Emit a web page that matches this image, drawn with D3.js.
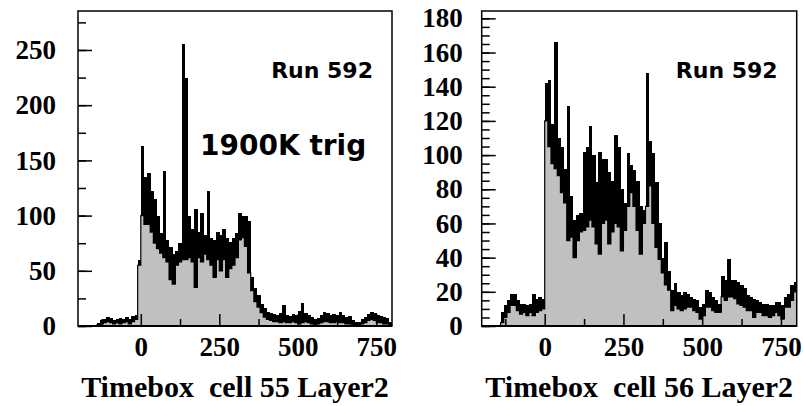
<!DOCTYPE html>
<html>
<head>
<meta charset="utf-8">
<script src="https://cdn.jsdelivr.net/npm/d3@7"></script>
<style>
  body { margin: 0; background: #fff; }
  svg { display: block; }
</style>
</head>
<body>
<div id="chart"></div>
<script>
// Timebox histograms, run 592: cell 55 and cell 56 of Layer2
// Each bin is 10 timebox units wide, from -200 to 800.
// "low" = level of the grey fill, "high" = top of the black fluctuation band.
const binWidth = 10;
const binStarts = d3.range(-200, 800, binWidth);

const cell55Low = [
  0, 0, 0, 0, 0, 0, 1, 2, 3, 4,
  3, 2, 3, 2, 3, 4, 2, 4, 6, 55,
  100, 92, 92, 85, 75, 70, 66, 62, 58, 42,
  38, 55, 58, 60, 60, 62, 58, 35, 62, 58,
  65, 60, 55, 44, 60, 50, 60, 44, 52, 55,
  62, 78, 80, 72, 48, 32, 22, 17, 12, 8,
  6, 5, 4, 4, 3, 4, 3, 3, 4, 3,
  2, 3, 4, 3, 2, 1, 2, 3, 4, 4,
  3, 3, 4, 3, 3, 2, 2, 1, 1, 1,
  2, 3, 5, 6, 5, 3, 3, 2, 2, 1
];
const cell55High = [
  0, 0, 0, 0, 0, 0, 3, 5, 6, 8,
  7, 5, 6, 7, 6, 8, 6, 9, 10, 60,
  163, 135, 139, 122, 115, 100, 84, 140, 78, 72,
  65, 68, 75, 255, 225, 100, 88, 106, 85, 102,
  82, 122, 80, 78, 85, 82, 88, 80, 76, 80,
  84, 102, 100, 100, 95, 44, 34, 28, 20, 16,
  13, 12, 11, 10, 12, 19, 10, 9, 11, 10,
  14, 21, 12, 10, 8, 6, 7, 10, 13, 12,
  10, 11, 10, 13, 10, 8, 9, 5, 4, 4,
  6, 8, 11, 13, 12, 10, 9, 8, 7, 4
];

const cell56Low = [
  0, 0, 0, 0, 0, 0, 2, 5, 8, 12,
  12, 9, 7, 8, 6, 8, 6, 8, 9, 10,
  120, 105, 95, 92, 88, 78, 72, 50, 52, 40,
  50, 55, 56, 58, 62, 58, 48, 42, 60, 62,
  48, 55, 60, 58, 44, 56, 70, 78, 70, 56,
  42, 60, 70, 82, 60, 46, 39, 31, 24, 21,
  9, 12, 10, 9, 10, 11, 11, 9, 8, 4,
  6, 11, 11, 9, 8, 8, 17, 15, 17, 17,
  16, 13, 12, 11, 9, 9, 5, 8, 8, 6,
  6, 5, 6, 8, 6, 4, 11, 11, 15, 20
];
const cell56High = [
  0, 0, 0, 0, 0, 0, 8, 12, 15, 19,
  19, 15, 13, 13, 12, 13, 19, 16, 17, 16,
  142, 144, 118, 166, 110, 105, 92, 129, 76, 62,
  65, 66, 102, 105, 117, 100, 84, 102, 98, 98,
  90, 85, 112, 105, 80, 72, 101, 94, 91, 85,
  70, 68, 148, 108, 101, 84, 60, 40, 49, 32,
  21, 25, 20, 18, 20, 19, 17, 16, 15, 11,
  13, 21, 20, 17, 15, 13, 29, 27, 39, 27,
  27, 26, 24, 22, 18, 17, 16, 15, 14, 13,
  13, 12, 12, 14, 14, 12, 17, 19, 24, 26
];

const xTickLabels = [0, 250, 500, 750];
const xMinorTicks = [-125, 125, 375, 625];
const cell55YTicks = [0, 50, 100, 150, 200, 250];
const cell56YTicks = [0, 20, 40, 60, 80, 100, 120, 140, 160, 180];

const W = 803, H = 406;
const svg = d3.select('#chart').append('svg')
  .attr('width', W)
  .attr('height', H);

const axisFont = "'Liberation Serif', 'Times New Roman', serif";

function drawPanel(p) {
  const x = d3.scaleLinear().domain([-200, 800]).range([p.left, p.right]);
  const y = d3.scaleLinear().domain([0, p.yMax]).range([p.bottom, p.top]);
  const g = svg.append('g');

  const bins = binStarts.map((b, i) => ({ b, lo: p.low[i], hi: p.high[i] }));

  // grey fill
  g.selectAll('.fill').data(bins).enter().append('rect')
    .attr('x', d => x(d.b))
    .attr('width', d => x(d.b + binWidth) - x(d.b) + 0.4)
    .attr('y', d => y(d.lo))
    .attr('height', d => y(0) - y(d.lo))
    .attr('fill', '#c0c0c0')
    .attr('shape-rendering', 'crispEdges');

  // black fluctuation band
  g.selectAll('.band').data(bins.filter(d => d.hi > 0)).enter().append('rect')
    .attr('x', d => x(d.b))
    .attr('width', d => x(d.b + binWidth) - x(d.b) + 0.4)
    .attr('y', d => y(d.hi))
    .attr('height', d => Math.max(1.5, y(d.lo) - y(d.hi)))
    .attr('fill', '#000')
    .attr('shape-rendering', 'crispEdges');

  // step outline of the grey level
  const stepPts = bins.concat([{ b: 800, lo: bins[bins.length - 1].lo }]);
  g.append('path')
    .datum(stepPts)
    .attr('fill', 'none')
    .attr('stroke', '#000')
    .attr('stroke-width', 1.2)
    .attr('d', d3.line().x(d => x(d.b)).y(d => y(d.lo)).curve(d3.curveStepAfter));

  // frame
  g.append('rect')
    .attr('x', p.left).attr('y', p.top)
    .attr('width', p.right - p.left).attr('height', p.bottom - p.top)
    .attr('fill', 'none').attr('stroke', '#000').attr('stroke-width', 1.5);
  g.append('line')
    .attr('x1', p.left).attr('x2', p.right)
    .attr('y1', p.bottom).attr('y2', p.bottom)
    .attr('stroke', '#000').attr('stroke-width', 2.2);

  // y axis: minor then major ticks, pointing inside
  const yMinor = g.append('g')
    .attr('transform', `translate(${p.left},0)`)
    .call(d3.axisLeft(y).tickValues(d3.range(0, p.yMax, p.yMinorStep)).tickSizeInner(-8).tickSizeOuter(0).tickFormat(''));
  const yMajor = g.append('g')
    .attr('transform', `translate(${p.left},0)`)
    .call(d3.axisLeft(y).tickValues(p.yTicks).tickSizeInner(-14).tickSizeOuter(0).tickPadding(p.yPad));

  // x axis: ticks pointing up
  const xMinor = g.append('g')
    .attr('transform', `translate(0,${p.bottom})`)
    .call(d3.axisBottom(x).tickValues(xMinorTicks).tickSizeInner(-7).tickSizeOuter(0).tickFormat(''));
  const xMajor = g.append('g')
    .attr('transform', `translate(0,${p.bottom})`)
    .call(d3.axisBottom(x).tickValues(xTickLabels).tickSizeInner(-12).tickSizeOuter(0).tickPadding(11));

  [yMinor, yMajor, xMinor, xMajor].forEach(a => {
    a.select('.domain').remove();
    a.selectAll('line').attr('stroke', '#000').attr('stroke-width', 1.5);
    a.selectAll('text')
      .style('font-family', axisFont)
      .style('font-weight', 'bold')
      .style('font-size', '27px')
      .attr('fill', '#000');
  });

  // axis title
  g.append('text')
    .attr('x', (p.left + p.right) / 2)
    .attr('y', 397)
    .attr('text-anchor', 'middle')
    .style('white-space', 'pre')
    .style('font-family', axisFont)
    .style('font-weight', 'bold')
    .style('font-size', '30px')
    .text(p.title);

  // run label
  g.append('text')
    .attr('x', p.right - 19)
    .attr('y', 78)
    .attr('text-anchor', 'end')
    .style('font-family', "'DejaVu Sans', sans-serif")
    .style('font-weight', 'bold')
    .style('font-size', '22px')
    .text('Run 592');

  return g;
}

const leftPanel = drawPanel({
  left: 78, right: 392, top: 11, bottom: 326,
  yMax: 285.3, yMinorStep: 25, yTicks: cell55YTicks, yPad: 22,
  low: cell55Low, high: cell55High,
  title: 'Timebox  cell 55 Layer2'
});

leftPanel.append('text')
  .attr('x', 200)
  .attr('y', 155)
  .style('font-family', "'DejaVu Sans', sans-serif")
  .style('font-weight', 'bold')
  .style('font-size', '28px')
  .text('1900K trig');

drawPanel({
  left: 481.7, right: 796.7, top: 11, bottom: 326,
  yMax: 184.3, yMinorStep: 5, yTicks: cell56YTicks, yPad: 19,
  low: cell56Low, high: cell56High,
  title: 'Timebox  cell 56 Layer2'
});
</script>
</body>
</html>
